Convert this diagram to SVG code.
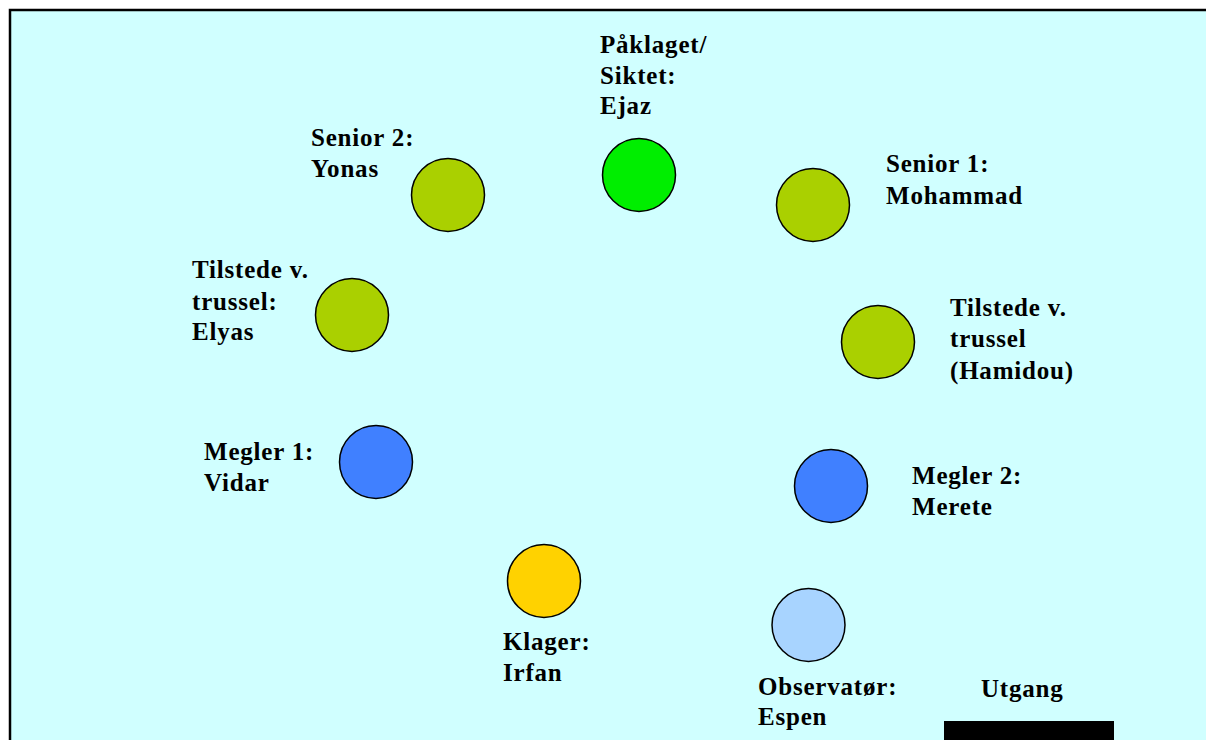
<svg xmlns="http://www.w3.org/2000/svg" width="1206" height="740" viewBox="0 0 1206 740">
<style>
.bg{fill:#D0FFFF}
.c{stroke:#000;stroke-width:1.5}
.g{fill:#AAD000}
.b{fill:#4080FF}
.t{font-family:"Liberation Serif","Times New Roman",serif;font-weight:bold;font-size:25px;letter-spacing:0.8px;fill:#000}
</style>
<rect class="bg" x="10" y="10" width="1196" height="730"/>
<path d="M10,740 V10 H1206" fill="none" stroke="#000" stroke-width="2.5"/>
<g id="connectors"/>
<g id="ejaz"><circle class="c" cx="639" cy="175" r="36.5" fill="#00EE00"/><text class="t" x="600"><tspan x="600" y="53">Påklaget/</tspan><tspan x="600" y="84">Siktet:</tspan><tspan x="600" y="114">Ejaz</tspan></text></g>
<g id="yonas"><circle class="c g" cx="448" cy="195" r="36.5"/><text class="t"><tspan x="311" y="146">Senior 2:</tspan><tspan x="311" y="177">Yonas</tspan></text></g>
<g id="mohammad"><circle class="c g" cx="813" cy="205" r="36.5"/><text class="t"><tspan x="886" y="172">Senior 1:</tspan><tspan x="886" y="204">Mohammad</tspan></text></g>
<g id="elyas"><circle class="c g" cx="352" cy="315" r="36.5"/><text class="t"><tspan x="192" y="278">Tilstede v.</tspan><tspan x="192" y="310">trussel:</tspan><tspan x="192" y="340">Elyas</tspan></text></g>
<g id="hamidou"><circle class="c g" cx="878" cy="342" r="36.5"/><text class="t"><tspan x="950" y="316">Tilstede v.</tspan><tspan x="950" y="347">trussel</tspan><tspan x="950" y="379">(Hamidou)</tspan></text></g>
<g id="vidar"><circle class="c b" cx="376" cy="462" r="36.5"/><text class="t"><tspan x="204" y="460">Megler 1:</tspan><tspan x="204" y="491">Vidar</tspan></text></g>
<g id="merete"><circle class="c b" cx="831" cy="486" r="36.5"/><text class="t"><tspan x="912" y="484">Megler 2:</tspan><tspan x="912" y="515">Merete</tspan></text></g>
<g id="irfan"><circle class="c" cx="544" cy="581" r="36.5" fill="#FFD200"/><text class="t"><tspan x="503" y="650">Klager:</tspan><tspan x="503" y="681">Irfan</tspan></text></g>
<g id="espen"><circle class="c" cx="808.5" cy="625" r="36.5" fill="#A8D4FF"/><text class="t"><tspan x="758" y="695">Observatør:</tspan><tspan x="758" y="725">Espen</tspan></text></g>
<g id="utgang"><text class="t" x="981" y="697">Utgang</text><rect x="944" y="721" width="170" height="19" fill="#000"/></g>
</svg>
